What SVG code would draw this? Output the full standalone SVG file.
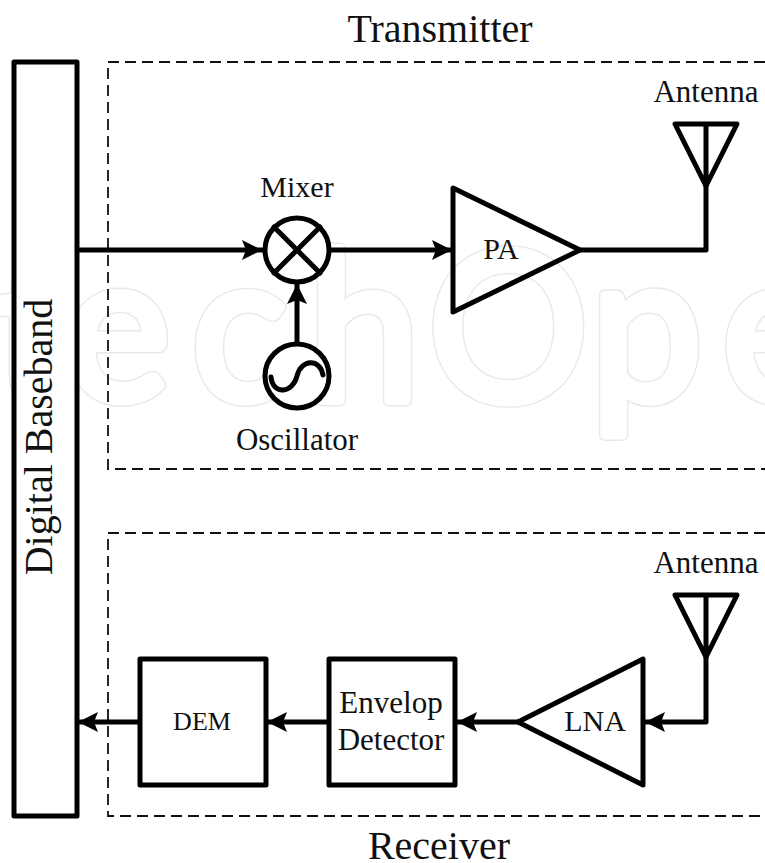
<svg xmlns="http://www.w3.org/2000/svg" width="765" height="863" viewBox="0 0 765 863">
<style>
text{font-family:"Liberation Serif","Times New Roman",serif;fill:#111}
.c{text-anchor:middle}
.m{font-size:30px}
.b{font-size:31px}
.l{font-size:40px}
.s{fill:none;stroke:#000;stroke-width:5;stroke-linejoin:round;stroke-linecap:round}
.w{fill:#fff;stroke:#000;stroke-width:5;stroke-linejoin:round;stroke-linecap:round}
.d{fill:none;stroke:#111;stroke-width:1.8;stroke-dasharray:11 6}
#wmt{font-family:Lato,"Open Sans",sans-serif;font-size:205px;stroke-linejoin:round}
.w1{fill:#e9e9e9;stroke:#e9e9e9;stroke-width:12}
.w2{fill:#fff;stroke:#fff;stroke-width:9}
</style>
<defs>
<marker id="a" markerUnits="userSpaceOnUse" markerWidth="20" markerHeight="20" refX="20" refY="10" orient="auto"><path d="M0 0L20 10L0 20L4 10Z" fill="#000"/></marker>
<text id="wmt" x="-6 67 198 318 442 609 745" y="0" style="fill:inherit;stroke:inherit;stroke-width:inherit">techOpe</text>
</defs>
<g id="watermark" transform="translate(0 400) scale(.97 1)"><use href="#wmt" class="w1"/><use href="#wmt" class="w2"/></g>
<path class="d" d="M765 62H108V469H765"/>
<path class="d" d="M765 533H108V816H765"/>
<g id="connectors">
<path class="s" d="M78 250H262" marker-end="url(#a)"/>
<path class="s" d="M331 250H452" marker-end="url(#a)"/>
<path class="s" d="M297 342V284" marker-end="url(#a)"/>
<path class="s" d="M580 250H706V186"/>
<path class="s" d="M706 657V722H645" marker-end="url(#a)"/>
<path class="s" d="M518 722H457" marker-end="url(#a)"/>
<path class="s" d="M328 722H267" marker-end="url(#a)"/>
<path class="s" d="M139 722H78" marker-end="url(#a)"/>
</g>
<g id="baseband"><rect class="w" x="14" y="62" width="63" height="754"/><text class="l c" transform="translate(52 437) rotate(-90)">Digital Baseband</text></g>
<g id="mixer"><circle class="w" cx="297" cy="250" r="32"/><path class="s" d="M274 227L320 273M320 227L274 273"/><text class="m c" x="297" y="197">Mixer</text></g>
<g id="oscillator"><circle class="w" cx="297" cy="376" r="32"/><path class="s" d="M271 377C273 396 293 393 297 376C301 359 320 358 323 375"/><text class="b c" x="297" y="450">Oscillator</text></g>
<g id="pa"><path class="s" d="M453 188V312L580 250Z"/><text class="m c" x="501" y="259">PA</text></g>
<g id="tx-antenna"><path class="s" d="M675 124H737L706 186ZM706 124V186"/><text class="b c" x="706" y="102">Antenna</text></g>
<g id="rx-antenna"><path class="s" d="M675 595H737L706 657ZM706 595V657"/><text class="b c" x="706" y="573">Antenna</text></g>
<g id="lna"><path class="s" d="M643 659V785L518 722Z"/><text class="m c" x="595" y="731">LNA</text></g>
<g id="envelope"><rect class="w" x="329" y="659" width="126" height="126"/><text class="b c" x="391" y="713">Envelop</text><text class="b c" x="391" y="750">Detector</text></g>
<g id="dem"><rect class="w" x="140" y="659" width="126" height="126"/><text class="c" style="font-size:26px" x="202" y="730">DEM</text></g>
<text class="l c" x="440" y="42">Transmitter</text>
<text class="l c" x="439" y="859">Receiver</text>
</svg>
